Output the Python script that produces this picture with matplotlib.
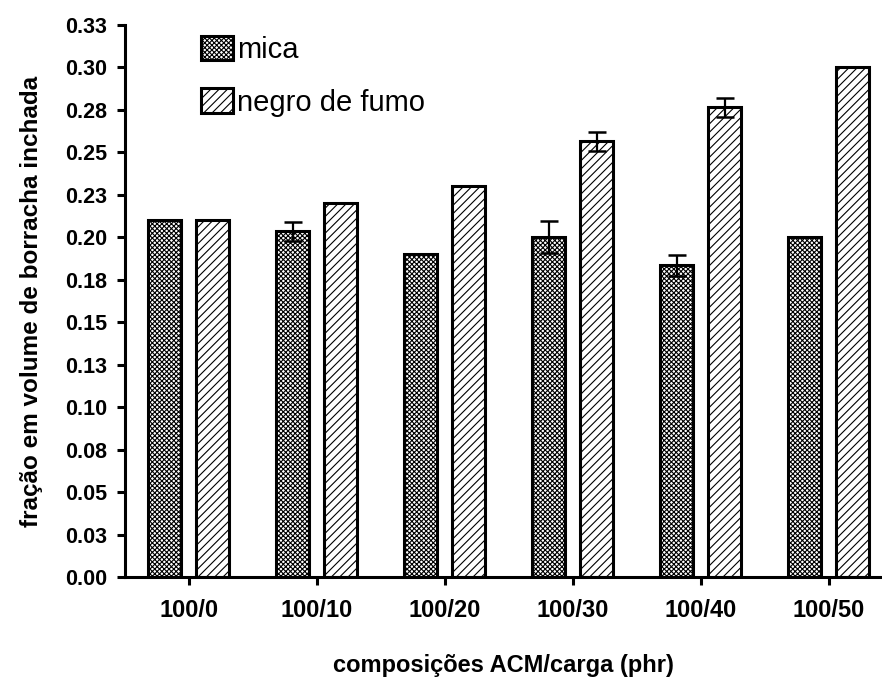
import numpy as np
import matplotlib
matplotlib.use('Agg')
import matplotlib.pyplot as plt

plt.rcParams['font.family'] = ['Liberation Sans', 'DejaVu Sans']
plt.rcParams['hatch.linewidth'] = 0.8

composicoes = ['100/0', '100/10', '100/20', '100/30', '100/40', '100/50']
mica = [0.21, 0.2035, 0.19, 0.20, 0.1835, 0.20]
mica_err = [0, 0.0055, 0, 0.0095, 0.006, 0]
negro = [0.21, 0.22, 0.23, 0.2565, 0.2765, 0.30]
negro_err = [0, 0, 0, 0.0055, 0.0055, 0]
yticks = [0.0, 0.025, 0.05, 0.075, 0.1, 0.125, 0.15, 0.175, 0.2, 0.225,
          0.25, 0.275, 0.3, 0.325]
ylabels = ['0.00', '0.03', '0.05', '0.08', '0.10', '0.13', '0.15', '0.18',
           '0.20', '0.23', '0.25', '0.28', '0.30', '0.33']

fig = plt.figure(figsize=(8.82, 6.84), dpi=100)
ax = fig.add_axes([0.1417, 0.1564, 0.8573, 0.8071])

x = np.arange(len(composicoes))
w = 0.258
off = 0.1875

ax.bar(x - off, mica, w, color='white', edgecolor='black', linewidth=2.2,
       hatch='xxxxxxx', label='mica', zorder=2)
ax.bar(x + off, negro, w, color='white', edgecolor='black', linewidth=2.2,
       hatch='////', label='negro de fumo', zorder=2)

for xs, vals, errs in [(x - off, mica, mica_err), (x + off, negro, negro_err)]:
    for xi, v, e in zip(xs, vals, errs):
        if e > 0:
            ax.errorbar(xi, v, yerr=e, fmt='none', ecolor='black',
                        elinewidth=1.6, capsize=6.5, capthick=1.8, zorder=3)

ax.set_xlim(-0.5, 5.41)
ax.set_ylim(0, 0.325)
ax.set_yticks(yticks)
ax.set_yticklabels(ylabels)
ax.set_xticks(x)
ax.set_xticklabels(composicoes)

for s in ['top', 'right']:
    ax.spines[s].set_visible(False)
for s in ['left', 'bottom']:
    ax.spines[s].set_linewidth(2.2)

ax.tick_params(axis='both', direction='out', length=6, width=2.2)
ax.tick_params(axis='x', pad=10, labelsize=17)
ax.tick_params(axis='y', pad=7, labelsize=15.5)
for lab in ax.get_xticklabels() + ax.get_yticklabels():
    lab.set_fontweight('bold')

ax.set_ylabel('fração em volume de borracha inchada', fontsize=17.5,
              fontweight='bold', labelpad=16)
ax.set_xlabel('composições ACM/carga (phr)', fontsize=17,
              fontweight='bold', labelpad=23)

ax.legend(loc='upper left', bbox_to_anchor=(0.1005, 0.98), frameon=False,
          fontsize=21, handlelength=1.1, handleheight=0.9,
          handletextpad=0.15, labelspacing=0.83, borderpad=0,
          borderaxespad=0)

fig.savefig('out.png', dpi=100)
